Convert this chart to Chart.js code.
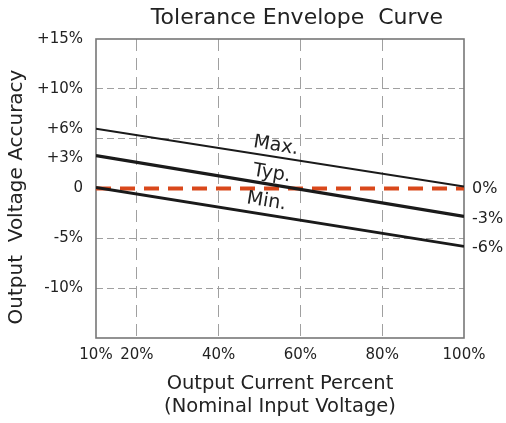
<!DOCTYPE html>
<html>
<head>
<meta charset="utf-8">
<script src="https://cdn.jsdelivr.net/npm/chart.js@4"></script>
<style>
  html, body { margin: 0; padding: 0; background: #fff; }
  #wrap { width: 506px; height: 423px; }
</style>
</head>
<body>
<div id="wrap"><canvas id="envChart" width="506" height="423"></canvas></div>
<script>
// data
const loadPct = [10, 100];
const maxCurve = [6, 0.2];
const typCurve = [3.3, -2.8];
const minCurve = [0.1, -5.8];
const nominal = [0, 0];

const xTicks = [10, 20, 40, 60, 80, 100];
const yTicks = [15, 10, 6, 5, 3, 0, -5, -10, -15];
const yLabels = { 15: '+15%', 10: '+10%', 6: '+6%', 3: '+3%', 0: '0', '-5': '-5%', '-10': '-10%' };
const yGridAt = [10, 5, -5, -10];
const rightTicks = [0, -3, -6];

// curve names and where they sit (data coords)
const curveNames = ['Max.', 'Typ.', 'Min.'];
const nameAt = [[54, 4.3], [53, 1.5], [51.7, -1.3]];

const font = '"DejaVu Sans", sans-serif';
const ink = '#222';
const gridGray = '#a0a0a0';

function pts(ys) {
  return loadPct.map((x, i) => ({ x: x, y: ys[i] }));
}

// frame + titles + curve names
const extras = {
  id: 'extras',
  beforeDatasetsDraw(chart) {
    const { ctx, chartArea: a } = chart;
    ctx.save();
    ctx.strokeStyle = '#777';
    ctx.lineWidth = 1.6;
    ctx.strokeRect(a.left, a.top, a.right - a.left, a.bottom - a.top);
    ctx.restore();
  },
  afterDatasetsDraw(chart) {
    const { ctx, scales } = chart;
    ctx.save();
    ctx.fillStyle = ink;
    ctx.textAlign = 'center';
    ctx.textBaseline = 'middle';
    ctx.font = '22px ' + font;
    ctx.fillText('Tolerance Envelope  Curve', 297, 18);

    // y axis title, a little below the plot centre like the original
    ctx.save();
    ctx.translate(17, 197);
    ctx.rotate(-Math.PI / 2);
    ctx.font = '20px ' + font;
    ctx.fillText('Output  Voltage Accuracy', 0, 0);
    ctx.restore();

    const ang = Math.atan2(scales.y.getPixelForValue(-6) - scales.y.getPixelForValue(0),
      scales.x.getPixelForValue(100) - scales.x.getPixelForValue(10));
    ctx.font = '19px ' + font;
    curveNames.forEach((t, i) => {
      const px = scales.x.getPixelForValue(nameAt[i][0]);
      const py = scales.y.getPixelForValue(nameAt[i][1]);
      ctx.save();
      ctx.translate(px, py);
      ctx.rotate(ang);
      ctx.fillText(t, 0, 0);
      ctx.restore();
    });
    ctx.restore();
  }
};

const lineDs = (label, ys, width) => ({
  label: label,
  data: pts(ys),
  borderColor: '#1a1a1a',
  borderWidth: width,
  pointRadius: 0,
  fill: false
});

new Chart(document.getElementById('envChart'), {
  type: 'line',
  data: {
    datasets: [
      lineDs('Max.', maxCurve, 2),
      lineDs('Typ.', typCurve, 3.4),
      lineDs('Min.', minCurve, 2.8),
      {
        label: 'Nominal',
        data: pts(nominal),
        borderColor: '#d9481b',
        borderWidth: 4,
        borderDash: [15, 9],
        pointRadius: 0,
        fill: false
      }
    ]
  },
  options: {
    responsive: false,
    animation: false,
    layout: { padding: { top: 39, left: 0, right: 0, bottom: 0 } },
    plugins: {
      legend: { display: false },
      tooltip: { enabled: false }
    },
    scales: {
      x: {
        type: 'linear',
        min: 10,
        max: 100,
        afterBuildTicks: (s) => { s.ticks = xTicks.map(v => ({ value: v })); },
        afterFit: (s) => { s.height = 85; },
        border: { display: false, dash: [12, 7] },
        grid: {
          drawTicks: false,
          color: (c) => (c.tick && (c.tick.value === 10 || c.tick.value === 100)) ? 'rgba(0,0,0,0)' : gridGray,
          lineWidth: 1
        },
        ticks: {
          color: ink,
          font: { family: font, size: 15 },
          padding: 8,
          maxRotation: 0,
          autoSkip: false,
          callback: (v) => v + '%'
        },
        title: {
          display: true,
          text: ['Output Current Percent', '(Nominal Input Voltage)'],
          color: ink,
          font: { family: font, size: 19.5 },
          lineHeight: 1.33,
          padding: { top: 9 }
        }
      },
      y: {
        position: 'left',
        min: -15,
        max: 15,
        afterBuildTicks: (s) => { s.ticks = yTicks.map(v => ({ value: v })); },
        afterFit: (s) => { s.width = 96; },
        border: { display: false, dash: [7, 4] },
        grid: {
          drawTicks: false,
          color: (c) => (c.tick && yGridAt.includes(c.tick.value)) ? gridGray : 'rgba(0,0,0,0)',
          lineWidth: 1
        },
        ticks: {
          color: ink,
          font: { family: font, size: 15 },
          padding: 13,
          autoSkip: false,
          callback: (v) => (yLabels[v] !== undefined ? yLabels[v] : '')
        }
      },
      yRight: {
        position: 'right',
        min: -15,
        max: 15,
        afterBuildTicks: (s) => { s.ticks = rightTicks.map(v => ({ value: v })); },
        afterFit: (s) => { s.width = 42; },
        border: { display: false },
        grid: { display: false, drawTicks: false },
        ticks: {
          color: ink,
          font: { family: font, size: 16 },
          padding: 8,
          autoSkip: false,
          callback: (v) => v + '%'
        }
      }
    }
  },
  plugins: [extras]
});
</script>
</body>
</html>
